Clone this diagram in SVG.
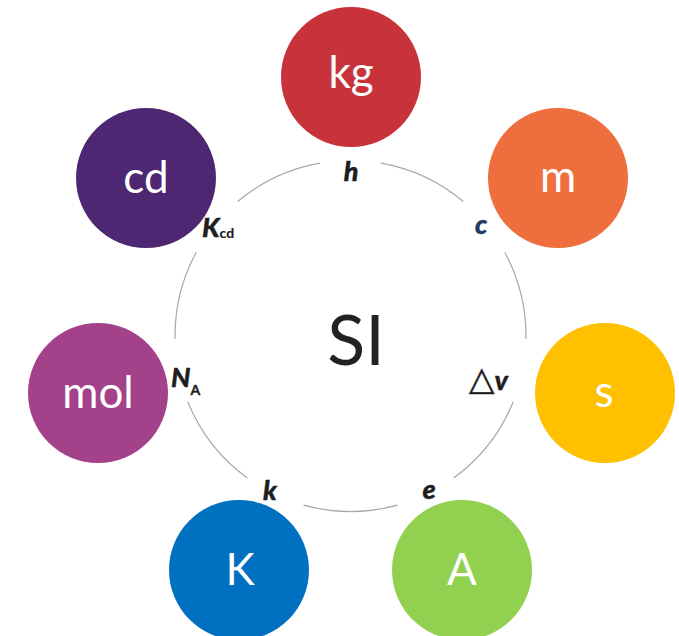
<svg xmlns="http://www.w3.org/2000/svg" width="679" height="636" viewBox="0 0 679 636">
  <style>
    .unit { font-family: Lato, "Open Sans", "Liberation Sans", sans-serif; font-size: 44px; fill: #ffffff; text-anchor: middle; }
    .const { font-family: Lato, "Open Sans", "Liberation Sans", sans-serif; font-size: 27px; font-weight: 900; font-style: italic; fill: #1e1e1e; stroke: #1e1e1e; stroke-width: 0.4; }
    .sub { font-family: Lato, "Open Sans", "Liberation Sans", sans-serif; font-size: 14px; font-weight: bold; font-style: normal; }
    .ring { fill: none; stroke: #a8a8a8; stroke-width: 1.2; }
  </style>
  <rect width="679" height="636" fill="#ffffff"/>

  <!-- ring arcs between the constants -->
  <g id="connectors">
    <path class="ring" d="M 237.69 201.56 A 175.5 175.5 0 0 1 320.02 163.17"/>
    <path class="ring" d="M 380.98 163.17 A 175.5 175.5 0 0 1 463.31 201.56"/>
    <path class="ring" d="M 504.73 252.26 A 175.5 175.5 0 0 1 525.97 339.06"/>
    <path class="ring" d="M 513.22 401.74 A 175.5 175.5 0 0 1 453.66 477.98"/>
    <path class="ring" d="M 397.40 505.12 A 175.5 175.5 0 0 1 303.60 505.12"/>
    <path class="ring" d="M 247.34 477.98 A 175.5 175.5 0 0 1 187.78 401.74"/>
    <path class="ring" d="M 175.03 339.06 A 175.5 175.5 0 0 1 196.27 252.26"/>
  </g>

  <!-- centre -->
  <g id="si">
    <text x="356" y="365" font-family="Lato, 'Open Sans', 'Liberation Sans', sans-serif" font-size="70" fill="#222222" text-anchor="middle">SI</text>
  </g>

  <!-- base units -->
  <g id="unit-kg">
    <circle cx="351" cy="77" r="70" fill="#c8323b"/>
    <text class="unit" x="351" y="88">kg</text>
  </g>
  <g id="unit-m">
    <circle cx="558" cy="178" r="70" fill="#ee6e3e"/>
    <text class="unit" x="558" y="192">m</text>
  </g>
  <g id="unit-s">
    <circle cx="605" cy="393" r="70" fill="#ffc000"/>
    <text class="unit" x="604" y="407">s</text>
  </g>
  <g id="unit-A">
    <circle cx="462" cy="570" r="70" fill="#92d050"/>
    <text class="unit" x="462" y="585">A</text>
  </g>
  <g id="unit-K">
    <circle cx="239" cy="570" r="70" fill="#0070c0"/>
    <text class="unit" x="240" y="585">K</text>
  </g>
  <g id="unit-mol">
    <circle cx="98" cy="393" r="70" fill="#a3418a"/>
    <text class="unit" x="98" y="408">mol</text>
  </g>
  <g id="unit-cd">
    <circle cx="146" cy="178" r="70" fill="#4e2773"/>
    <text class="unit" x="146" y="193">cd</text>
  </g>

  <!-- defining constants -->
  <g id="const-h">
    <text class="const" x="351" y="181" text-anchor="middle">h</text>
  </g>
  <g id="const-c">
    <text class="const" x="481" y="234" text-anchor="middle" style="fill:#1f3864;stroke:#1f3864">c</text>
  </g>
  <g id="const-dv">
    <text class="const" x="469" y="390"><tspan font-style="normal" font-weight="normal" font-family="'DejaVu Sans', sans-serif" font-size="33" style="stroke-width:0.5">△</tspan><tspan dx="0">v</tspan></text>
  </g>
  <g id="const-e">
    <text class="const" x="429" y="499" text-anchor="middle">e</text>
  </g>
  <g id="const-k">
    <text class="const" x="270" y="500" text-anchor="middle">k</text>
  </g>
  <g id="const-NA">
    <text class="const" x="171" y="387">N<tspan class="sub" dy="8">A</tspan></text>
  </g>
  <g id="const-Kcd">
    <text class="const" x="202" y="237">K<tspan class="sub" dy="1" style="stroke-width:0.2">cd</tspan></text>
  </g>
</svg>
